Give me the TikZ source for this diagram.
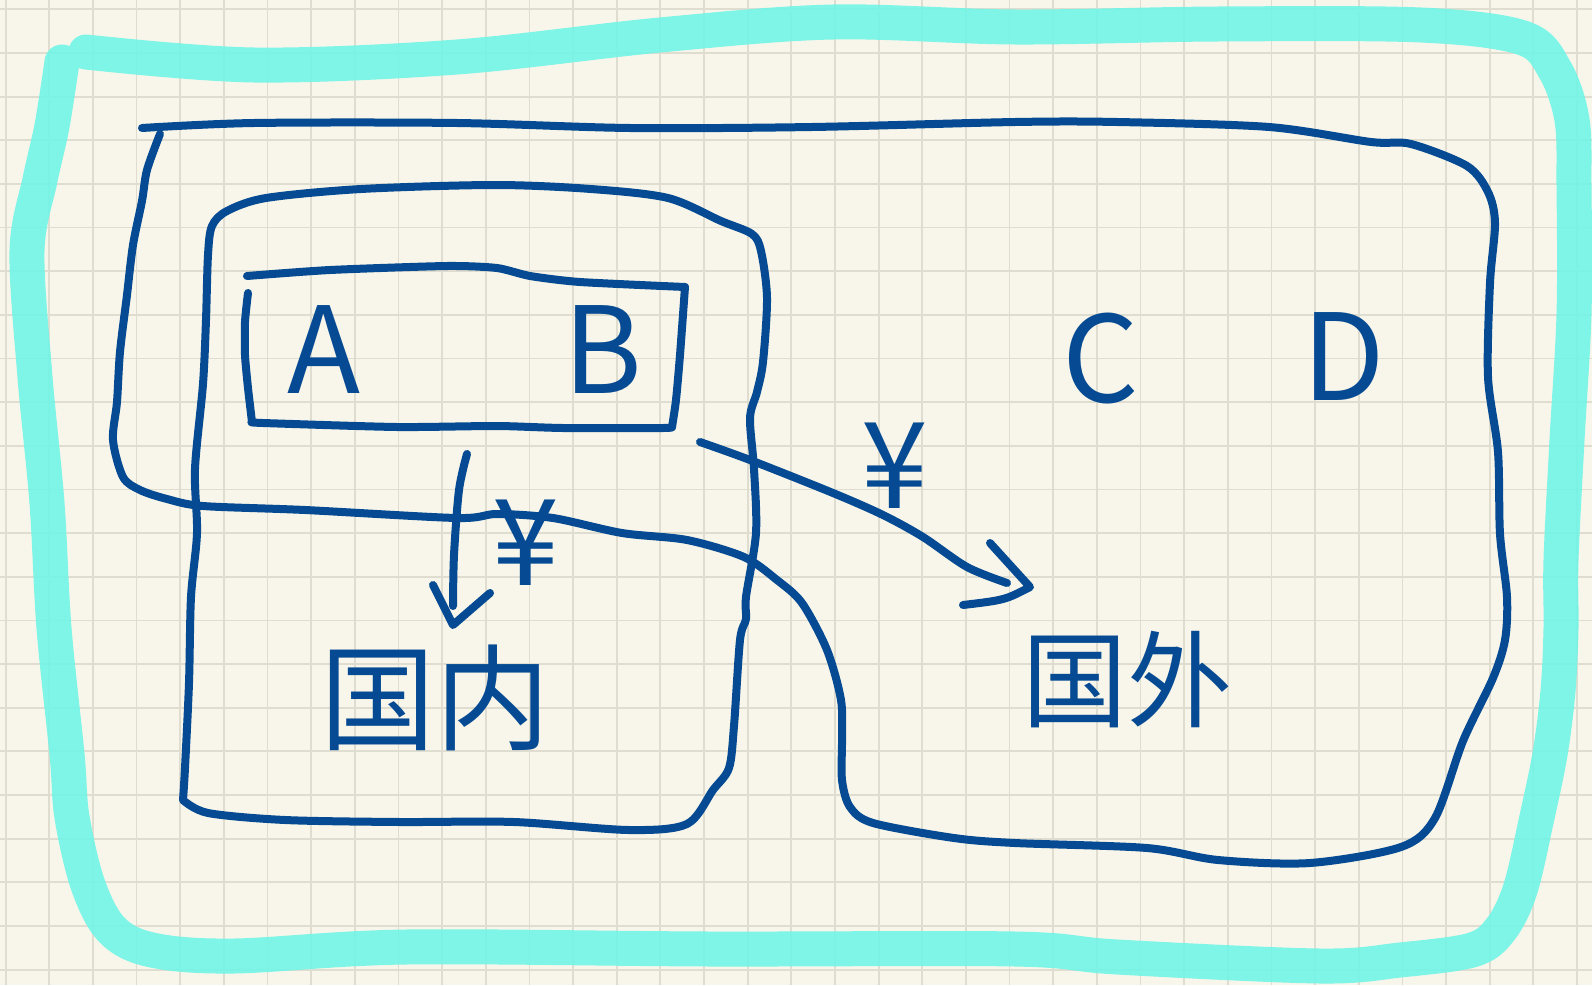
\documentclass[tikz,border=0pt]{standalone}
\usepackage{fontspec}
\newfontfamily\cjk{Noto Sans CJK SC}
\definecolor{paper}{RGB}{248,246,234}
\definecolor{gridc}{RGB}{223,221,208}
\definecolor{hi}{RGB}{113,245,231}
\definecolor{ink}{RGB}{5,74,146}
\begin{document}
\begin{tikzpicture}[x=1pt,y=-1pt,
  inkline/.style={draw=ink,line width=8pt,line cap=round,line join=round},
  gridline/.style={draw=gridc,line width=1.8pt},
  hiline/.style={draw=hi,opacity=0.9,line width=35pt,line cap=round,line join=round},
  lbl/.style={text=ink,inner sep=0pt,font=\cjk\fontsize{120}{120}\selectfont}]
\fill[paper] (0,0) rectangle (1592,985);
\useasboundingbox (0,0) rectangle (1592,985);
\foreach \i in {0,...,36} \draw[gridline] ({5.6+43.65*\i},0) -- ({5.6+43.65*\i},985);
\foreach \j in {0,...,22} \draw[gridline] (0,{9.3+43.65*\j}) -- (1592,{9.3+43.65*\j});
% cyan outer loop
\draw[hiline] plot[smooth,tension=0.55] coordinates {
 (86,52) (254,65) (457,57) (660,35) (833,22) (1015,27) (1218,24) (1421,25)
 (1523,38) (1555,70) (1572,120) (1574,188) (1574,314) (1567,440) (1561,560)
 (1561,628) (1558,691) (1550,754) (1537,817) (1520,890) (1500,930) (1472,950)
 (1400,960) (1320,966) (1117,957) (1015,949) (711,949) (406,947) (234,956)
 (152,950) (112,930) (88,885) (72,817) (67,754) (54,628) (47,503) (35,377)
 (27,251) (40,180) (52,126) (62,62)};
% big blue region
\draw[inkline] plot[smooth,tension=0.5] coordinates {
 (160,134) (147,170) (142,201) (133,245) (127,295) (120,352) (117,402) (113,440)
 (123,477) (140,490) (167,499) (203,506) (305,510) (457,518) (497,514) (553,518)
 (622,533) (687,540) (744,557) (777,580) (802,603) (827,650) (841,700) (842,740)
 (842,780) (850,807) (873,823) (954,838) (1015,843) (1147,848) (1218,860)
 (1310,863) (1401,847) (1435,818) (1463,741) (1493,678) (1505,640) (1507,597)
 (1500,534) (1498,452) (1488,377) (1490,283) (1495,223) (1488,192) (1467,166)
 (1411,144) (1371,142) (1269,127) (1117,122) (1015,122) (812,127) (630,128)
 (457,123) (254,123) (142,128)};
% inner box
\draw[inkline] plot[smooth,tension=0.5] coordinates {
 (183,800) (185,768) (189,683) (191,597) (197,533) (195,469) (203,384) (206,320)
 (208,255) (212,226) (227,211) (266,198) (361,189) (495,185) (591,189) (668,198)
 (721,221) (752,234) (761,251) (767,298) (763,362) (757,392) (750,418) (754,469)
 (756,533) (746,597) (746,619) (740,640) (734,726) (729,768) (713,790) (687,824)
 (629,830) (514,822) (400,822) (285,820) (208,813) (183,800)};
% A B box
\draw[inkline] plot[smooth,tension=0.4] coordinates {
 (248,293) (245,322) (245,355) (248,388) (252,422)};
\draw[inkline] plot[smooth,tension=0.4] coordinates {
 (252,422) (263,423) (397,427) (497,426) (563,428) (663,428) (672,427)};
\draw[inkline] plot[smooth,tension=0.4] coordinates {
 (672,427) (676,400) (680,355) (685,287)};
\draw[inkline] plot[smooth,tension=0.4] coordinates {
 (685,287) (580,282) (530,276) (497,268) (447,266) (330,270) (247,276)};
% down arrow
\coordinate (d0) at (467,454);
\coordinate (d1) at (453,606);
\draw[inkline] plot[smooth,tension=0.5] coordinates {(d0) (459,490) (454,555) (d1)};
\draw[inkline] (433,585) -- (453,625) -- (490,593);
% right arrow
\coordinate (r0) at (700,442);
\coordinate (r1) at (1007,583);
\draw[inkline] plot[smooth,tension=0.5] coordinates {(r0) (750,460) (833,493) (883,515) (923,537) (967,567) (r1)};
\draw[inkline] (990,543) -- (1030,587) .. controls (1005,600) .. (963,605);
% labels
\node[lbl] (A) at (324,350) {A};
\node[lbl] (B) at (603,350) {B};
\node[lbl] (C) at (1101,359) {C};
\node[lbl] (D) at (1344,357) {D};
\node[lbl] (y1) at (526,543) {¥};
\node[lbl] (y2) at (895,466) {¥};
\node[lbl,font=\cjk\fontsize{115}{115}\selectfont] (gn) at (435,698) {国内};
\node[lbl,font=\cjk\fontsize{105}{105}\selectfont] (gw) at (1127,680) {国外};
\end{tikzpicture}
\end{document}
